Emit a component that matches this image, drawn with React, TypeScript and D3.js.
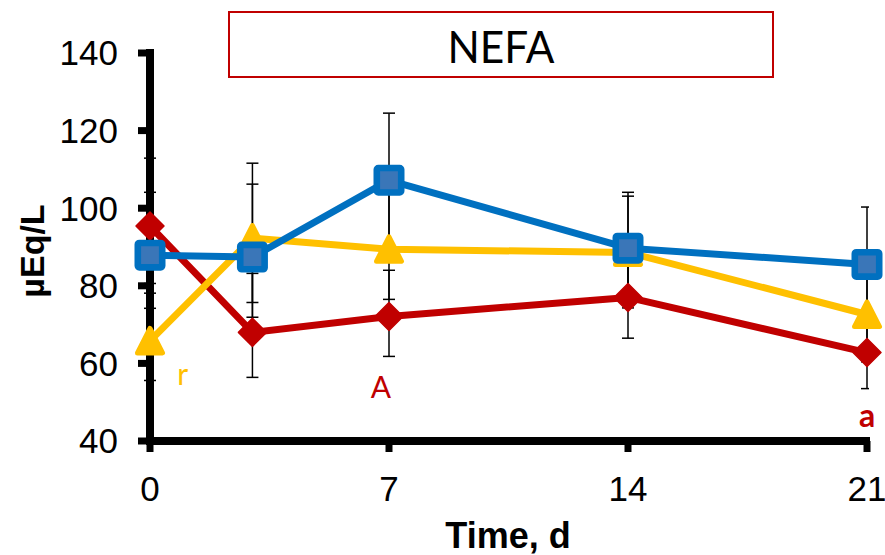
import React from "react";
import * as d3 from "d3";

const days = [0, 3, 7, 14, 21];
const xTicks = [0, 7, 14, 21];
const yTicks = [40, 60, 80, 100, 120, 140];

const redMeans = [95.4, 68.0, 72.1, 77.0, 62.8];
const redHi = [112.9, 83.2, 84.0, 87.5, 71.8];
const redLo = [78.1, 56.4, 61.8, 66.5, 53.5];

const yellowMeans = [65.8, 92.3, 89.4, 88.6, 72.6];
const yellowHi = [74.2, 111.6, 104.6, 103.1, 84.4];
const yellowLo = [55.6, 75.7, 76.5, 74.3, 60.4];

const blueMeans = [87.9, 87.4, 107.2, 89.7, 85.5];
const blueHi = [104.1, 106.2, 124.5, 104.1, 100.3];
const blueLo = [80.6, 71.9, 89.9, 75.3, 70.7];

const title = "NEFA";
const yTitle = "µEq/L";
const xTitle = "Time, d";

const annotations = [
  { text: "r", day: 0.8, value: 54.4, color: "#FFC000", bold: false, anchor: "start" },
  { text: "A", day: 7, value: 51.1, color: "#C00000", bold: false, anchor: "end" },
  { text: "a", day: 21, value: 43.6, color: "#C00000", bold: true, anchor: "middle" },
];

const W = 885;
const H = 555;

export default function App() {
  const x = d3.scaleLinear().domain([0, 21]).range([150, 867]);
  const y = d3.scaleLinear().domain([40, 140]).range([441, 53]);
  const line = d3
    .line<number>()
    .x((_, i) => x(days[i]))
    .y((d) => y(d));

  const series = [
    { key: "red", color: "#C00000", means: redMeans, hi: redHi, lo: redLo, shape: "diamond" },
    { key: "yellow", color: "#FFC000", means: yellowMeans, hi: yellowHi, lo: yellowLo, shape: "triangle" },
    { key: "blue", color: "#0070C0", means: blueMeans, hi: blueHi, lo: blueLo, shape: "square" },
  ];

  const marker = (shape: string, color: string, cx: number, cy: number, k: string) => {
    if (shape === "diamond") {
      const r = 14;
      return (
        <path
          key={k}
          d={`M${cx},${cy - r}L${cx + r},${cy}L${cx},${cy + r}L${cx - r},${cy}Z`}
          fill={color}
          stroke={color}
          strokeWidth={1.5}
          strokeLinejoin="round"
        />
      );
    }
    if (shape === "triangle") {
      return (
        <path
          key={k}
          d={`M${cx},${cy - 12.5}L${cx + 12.5},${cy + 12}L${cx - 12.5},${cy + 12}Z`}
          fill={color}
          stroke={color}
          strokeWidth={5}
          strokeLinejoin="round"
        />
      );
    }
    return (
      <rect
        key={k}
        x={cx - 12.2}
        y={cy - 12.2}
        width={24.4}
        height={24.4}
        fill="#3A76B8"
        stroke={color}
        strokeWidth={6.6}
        strokeLinejoin="round"
        rx={1.5}
      />
    );
  };

  const font = "'Liberation Sans', Arial, sans-serif";
  const cal = "Lato, 'Open Sans', sans-serif";

  return (
    <svg
      width={W}
      height={H}
      style={{ position: "absolute", left: 0, top: 0, background: "#fff" }}
    >
      <defs>
        <clipPath id="errClip">
          <rect x={0} y={0} width={869} height={H} />
        </clipPath>
      </defs>
      <rect x={0} y={0} width={W} height={H} fill="#fff" />

      {/* title box */}
      <rect x={229} y={12} width={544} height={65} fill="#fff" stroke="#C00000" strokeWidth={2} />
      <text
        x={501}
        y={63}
        textAnchor="middle"
        fontFamily={cal}
        fontSize={45}
        fill="#000"
        textLength={107}
        lengthAdjust="spacingAndGlyphs"
      >
        {title}
      </text>

      {/* error bars */}
      <g clipPath="url(#errClip)" stroke="#000" strokeWidth={1.5}>
        {series.map((s) =>
          days.map((d, i) => {
            const cx = x(d);
            return (
              <g key={s.key + i}>
                <line x1={cx} x2={cx} y1={y(s.hi[i])} y2={y(s.lo[i])} />
                <line x1={cx - 6} x2={cx + 6} y1={y(s.hi[i])} y2={y(s.hi[i])} />
                <line x1={cx - 6} x2={cx + 6} y1={y(s.lo[i])} y2={y(s.lo[i])} />
              </g>
            );
          })
        )}
      </g>

      {/* y axis */}
      <line x1={150} x2={150} y1={49} y2={445} stroke="#000" strokeWidth={8} />
      {yTicks.map((t) => (
        <g key={"yt" + t}>
          <line x1={138} x2={150} y1={y(t)} y2={y(t)} stroke="#000" strokeWidth={7} />
          <text
            x={118}
            y={y(t) + 12.3}
            textAnchor="end"
            fontFamily={font}
            fontSize={35}
            fill="#000"
          >
            {t}
          </text>
        </g>
      ))}

      {/* x axis */}
      <line x1={146} x2={870} y1={441} y2={441} stroke="#000" strokeWidth={8} />
      {xTicks.map((t) => (
        <g key={"xt" + t}>
          <line x1={x(t)} x2={x(t)} y1={441} y2={452} stroke="#000" strokeWidth={7} />
          <text x={x(t)} y={501} textAnchor="middle" fontFamily={font} fontSize={35} fill="#000">
            {t}
          </text>
        </g>
      ))}

      {/* series */}
      {series.map((s) => (
        <g key={s.key}>
          <path d={line(s.means) || ""} fill="none" stroke={s.color} strokeWidth={7} strokeLinejoin="round" />
          {s.means.map((v, i) => marker(s.shape, s.color, x(days[i]), y(v), s.key + "m" + i))}
        </g>
      ))}

      {/* annotations */}
      {annotations.map((a) => (
        <text
          key={a.text}
          x={a.anchor === "end" ? x(a.day) + 2 : x(a.day)}
          y={y(a.value)}
          textAnchor={a.anchor === "end" ? "end" : a.anchor}
          fontFamily={cal}
          fontSize={a.bold ? 32 : 30}
          fontWeight={a.bold ? 700 : 400}
          fill={a.color}
        >
          {a.text}
        </text>
      ))}

      {/* axis titles */}
      <text
        transform={`translate(44,251) rotate(-90)`}
        textAnchor="middle"
        fontFamily={font}
        fontWeight={700}
        fontSize={34}
        fill="#000"
      >
        {yTitle}
      </text>
      <text x={508} y={548} textAnchor="middle" fontFamily={font} fontWeight={700} fontSize={36} fill="#000">
        {xTitle}
      </text>
    </svg>
  );
}
